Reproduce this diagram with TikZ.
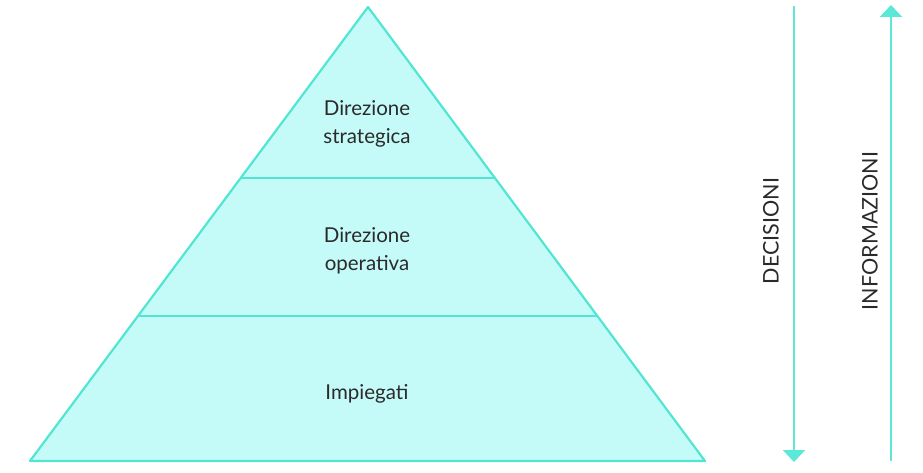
\documentclass[tikz,border=0pt]{standalone}
\usepackage{fontspec}
\setmainfont{Lato}
\usetikzlibrary{arrows.meta,calc}
\definecolor{edge}{HTML}{52E6D2}
\definecolor{fillc}{HTML}{C4FBF8}
\definecolor{arrc}{HTML}{5CE8D8}
\definecolor{txt}{HTML}{2A2A2A}
\tikzset{
  level/.style={draw=edge,line width=2.2pt,line join=round},
  lbl/.style={text=txt,font=\fontsize{20.5}{28}\selectfont,align=center,inner sep=0pt},
  flow/.style={draw=arrc,line width=2.6pt,-{Triangle[length=12pt,width=22pt]}},
  side/.style={text=txt,font=\fontsize{21.5}{24}\selectfont,rotate=90,inner sep=0pt}
}
\begin{document}
\begin{tikzpicture}[x=1pt,y=-1pt]
\useasboundingbox (0,0) rectangle (923,473);
\coordinate (apex) at (368,7);
\coordinate (bl) at (30,461);
\coordinate (br) at (705,461);
\coordinate (l1) at (241,178);
\coordinate (r1) at (495,178);
\coordinate (l2) at (138,316);
\coordinate (r2) at (598,316);
\fill[fillc] (apex) -- (br) -- (bl) -- cycle;
\draw[level] (apex) -- (br) -- (bl) -- cycle;
\draw[level] (l1) -- (r1);
\draw[level] (l2) -- (r2);
\node[lbl] (top) at (367,124) {Direzione\\strategica};
\node[lbl] (mid) at (367,251) {Direzione\\operativa};
\node[lbl] (low) at (367,394) {Impiegati};
\coordinate (dtop) at (794,6);
\coordinate (dbot) at (794,462);
\coordinate (ubot) at (891,461);
\coordinate (utop) at (891,5);
\draw[flow] (dtop) -- (dbot);
\draw[flow] (ubot) -- (utop);
\node[side] (dec) at (771,231) {DECISIONI};
\node[side] (inf) at (870,231) {INFORMAZIONI};
\end{tikzpicture}
\end{document}
